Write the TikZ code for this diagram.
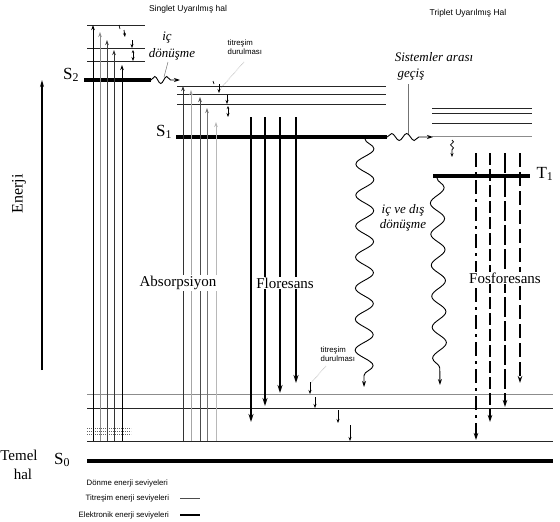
\documentclass[tikz,border=0pt]{standalone}
\usepackage{fontspec}
\setmainfont{Liberation Serif}
\newfontfamily\sansf{Liberation Sans}
\usetikzlibrary{arrows.meta,decorations.pathmorphing}
\begin{document}
\begin{tikzpicture}[x=1pt,y=-1pt,
  lvl/.style={line width=0.9pt, black!85},
  lvlg/.style={line width=0.9pt, black!45},
  elec/.style={line width=4pt},
  absarr/.style={line width=0.9pt, -{Stealth[length=5pt,width=3.5pt]}},
  fluarr/.style={line width=1.8pt, -{Stealth[length=8pt,width=5pt]}},
  phosarr/.style={line width=1.3pt, -{Stealth[length=7pt,width=4.5pt]}},
  vrarr/.style={line width=0.8pt, -{Stealth[length=4pt,width=3pt]}},
  bigwave/.style={line width=0.9pt, -{Stealth[length=6pt,width=4pt]}, decorate,
     decoration={snake, amplitude=#1, segment length=31pt, post length=7pt}},
  hwave/.style={line width=0.9pt, -{Stealth[length=6pt,width=4pt]}, decorate,
     decoration={snake, amplitude=3.5pt, segment length=#1, post length=7pt}},
  leader/.style={black!55, line width=0.5pt},
  bigtxt/.style={font=\fontsize{15}{15}\selectfont, inner sep=1pt},
  slabel/.style={font=\fontsize{17}{17}\selectfont, inner sep=0pt},
  itxt/.style={font=\fontsize{13}{15}\selectfont\itshape, align=center, inner sep=1pt},
  smalltxt/.style={font=\sansf\fontsize{7.8}{9.5}\selectfont, inner sep=0.5pt},
  titletxt/.style={font=\sansf\fontsize{8.5}{9}\selectfont, inner sep=0pt},
]
\useasboundingbox (0,0) rectangle (560,522);

% titles
\node[titletxt] (tsing) at (188,9) {Singlet Uyarılmış hal};
\node[titletxt] (ttrip) at (468,13) {Triplet Uyarılmış Hal};

% energy axis
\coordinate (eb) at (42,370);
\coordinate (et) at (42,80);
\draw[line width=1.3pt, -{Stealth[length=7pt,width=4pt]}] (eb) -- (et);
\node[font=\fontsize{16}{16}\selectfont, rotate=90] (enerji) at (19,194) {Enerji};

% S2 levels
\draw[lvl] (87,25) -- (145,25);
\draw[lvl] (87,48) -- (145,48);
\draw[lvl] (87,61) -- (145,61);
\draw[elec] (84,80) -- (151,80);
\node[slabel] (s2) at (71,75) {S\textsubscript{2}};

% S1 levels
\draw[lvl] (177,86) -- (386,86);
\draw[lvl] (177,94) -- (386,94);
\draw[lvl] (177,104) -- (386,104);
\draw[elec] (176,137) -- (387,137);
\node[slabel] (s1) at (164,132) {S\textsubscript{1}};

% triplet levels
\draw[lvl] (432,108) -- (532,108);
\draw[lvl] (432,113) -- (532,113);
\draw[lvl] (432,123) -- (532,123);
\draw[lvlg] (432,136) -- (532,136);
\draw[elec] (433,176) -- (530,176);
\node[slabel] (t1) at (545,174) {T\textsubscript{1}};

% S0 levels
\draw[lvlg] (87,394) -- (553,394);
\draw[lvl] (87,408) -- (553,408);
\draw[lvl] (87,441) -- (553,441);
\draw[elec] (87,461) -- (553,461);
\node[slabel] (s0) at (62,460) {S\textsubscript{0}};
\node[font=\fontsize{15}{15}\selectfont] (temel) at (19,455) {Temel};
\node[font=\fontsize{15}{15}\selectfont] (hal) at (23,474) {hal};

% rotational levels (dots)
\foreach \yy in {428,431,434}
  \draw[black!60, line width=0.6pt, dash pattern=on 0.6pt off 1.4pt] (87,\yy) -- (131,\yy);

% absorption to S2
\draw[absarr, black] (93,441) -- (93,25);
\draw[absarr, black!45] (100,441) -- (100,32);
\draw[absarr, black!75] (107,441) -- (107,40);
\draw[absarr, black!80] (114,441) -- (114,50);
\draw[absarr, black] (122,441) -- (122,65);

% absorption to S1
\draw[absarr, black!80] (183,441) -- (183,86);
\draw[absarr, black!35] (191,441) -- (191,90);
\draw[absarr, black!70] (200,441) -- (200,97);
\draw[absarr, black!55] (207,441) -- (207,108);
\draw[absarr, black!28] (216,441) -- (216,122);

% vibrational relaxation S2
\draw[line width=0.7pt] (119,25) -- (120,29);
\draw[vrarr] (124,30) -- (125,37);
\draw[vrarr] (132,40) -- (132,48);
\draw[vrarr, {Stealth[length=3pt,width=2.5pt]}-{Stealth[length=4pt,width=3pt]}] (133,50) -- (133,61);

% vibrational relaxation S1
\draw[line width=0.7pt] (213,81) -- (214,84);
\draw[vrarr] (219,84) -- (219,93);
\draw[vrarr] (227,95) -- (227,104);
\draw[vrarr, {Stealth[length=3pt,width=2.5pt]}-{Stealth[length=4pt,width=3pt]}] (228,106) -- (228,117);

% vibrational relaxation S0
\draw[vrarr] (310,382) -- (310,394);
\draw[vrarr] (315,397) -- (315,408);
\draw[vrarr] (338,410) -- (338,423);
\draw[vrarr] (350,425) -- (350,441);

% fluorescence
\draw[fluarr] (251,117) -- (251,422);
\draw[fluarr] (265,117) -- (265,406);
\draw[fluarr] (280,117) -- (280,393);
\draw[fluarr] (296,117) -- (296,383);

% phosphorescence
\draw[phosarr, dash pattern=on 14pt off 5pt on 3pt off 5pt] (476,153) -- (476,440);
\draw[phosarr, dash pattern=on 12pt off 4pt] (490,153) -- (490,422);
\draw[phosarr, dash pattern=on 20pt off 4pt] (505,153) -- (505,407);
\draw[phosarr, dash pattern=on 14pt off 5pt] (520,153) -- (520,383);

% internal conversion S2 -> S1
\draw[hwave=12pt] (151,80) -- (180,80);
% intersystem crossing S1 -> T
\draw[hwave=15pt] (387,137) -- (433,137);
% small wavy relaxation in triplet
\draw[line width=0.8pt, -{Stealth[length=4pt,width=3pt]}, decorate,
  decoration={snake, amplitude=1.5pt, segment length=6pt, post length=5pt}] (452,140) -- (452,157);

% internal & external conversion waves
\draw[bigwave=9pt] (365,139) -- (364,387);
\draw[bigwave=7pt] (437,178) -- (440,385);

% texts
\node[itxt] (ic1) at (167,38) {iç};
\node[itxt] (ic2) at (172,54) {dönüşme};
\draw[leader] (168,62) -- (164,77);

\node[itxt] (isc1) at (434,57) {Sistemler arası};
\node[itxt] (isc2) at (411,75) {geçiş};
\draw[leader] (408,84) -- (408,134);

\node[itxt] (ivd) at (403,218) {iç ve dış\\dönüşme};

\node[smalltxt, align=left, anchor=west] (tdur1) at (227,47) {titreşim\\durulması};
\draw[leader, densely dotted] (244,62) -- (221,88);

\node[smalltxt, align=left, anchor=west] (tdur2) at (320,354) {titreşim\\durulması};
\draw[leader, densely dotted] (326,366) -- (311,383);

\node[bigtxt, fill=white] (absn) at (178,283) {Absorpsiyon};
\node[bigtxt, fill=white] (flon) at (285,283) {Floresans};
\node[bigtxt, fill=white] (fosn) at (505,278) {Fosforesans};

% legend
\node[smalltxt, anchor=west] (lg1) at (86,483) {Dönme enerji seviyeleri};
\node[smalltxt, anchor=west] (lg2) at (85,498) {Titreşim enerji seviyeleri};
\node[smalltxt, anchor=west] (lg3) at (78,515) {Elektronik enerji seviyeleri};
\coordinate (lg2a) at (180,498); \coordinate (lg2b) at (200,498);
\coordinate (lg3a) at (180,515); \coordinate (lg3b) at (200,515);
\draw[line width=0.6pt, black!70] (lg2a) -- (lg2b);
\draw[line width=2.5pt] (lg3a) -- (lg3b);
\end{tikzpicture}
\end{document}
